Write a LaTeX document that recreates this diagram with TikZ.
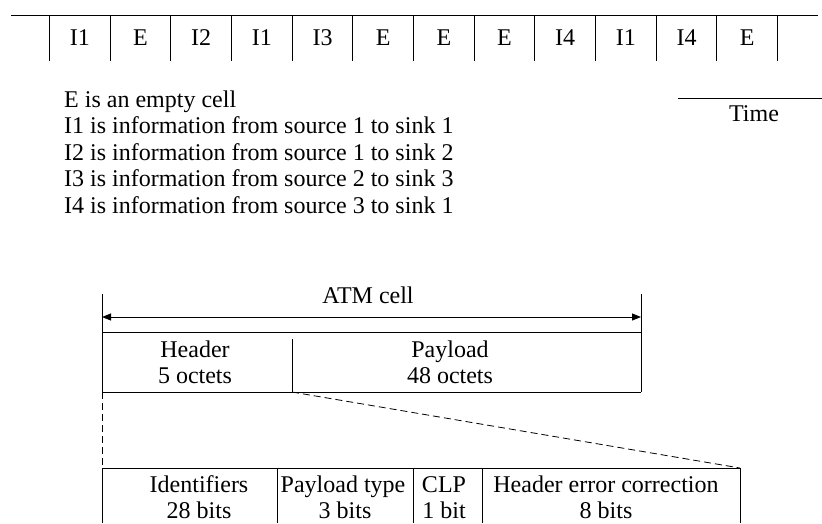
\documentclass[tikz,border=0pt]{standalone}
\usepackage{fontspec}
\setmainfont{Liberation Serif}
\usetikzlibrary{arrows.meta}
\begin{document}
\begin{tikzpicture}[x=1pt,y=-1pt,
  txt/.style={inner sep=0pt,anchor=base,font=\fontsize{24}{26}\selectfont},
  lgd/.style={inner sep=0pt,anchor=base west,font=\fontsize{24}{26}\selectfont},
  ln/.style={line width=0.9pt},
  dsh/.style={line width=0.8pt,dash pattern=on 7pt off 4pt},
  dimarrow/.style={line width=0.9pt,{Triangle[length=9pt,width=7pt]}-{Triangle[length=9pt,width=7pt]}}]
\useasboundingbox (0,0) rectangle (822,523);
% time strip
\draw[ln] (11,15) -- (818,15);
\foreach \i in {0,...,12} \draw[ln] ({49.5+60.67*\i},15) -- ({49.5+60.67*\i},61);
\foreach \t [count=\i from 0] in {I1,E,I2,I1,I3,E,E,E,I4,I1,I4,E}
  \node[txt] (c\i) at ({49.5+60.67*(\i+0.5)},45) {\t};
% legend
\node[lgd] (l1) at (64,107) {E is an empty cell};
\node[lgd] (l2) at (64,133.5) {I1 is information from source 1 to sink 1};
\node[lgd] (l3) at (64,160) {I2 is information from source 1 to sink 2};
\node[lgd] (l4) at (64,186.5) {I3 is information from source 2 to sink 3};
\node[lgd] (l5) at (64,213) {I4 is information from source 3 to sink 1};
% time
\draw[ln] (678,98) -- (822,98);
\node[txt] (time) at (754,121) {Time};
% ATM cell
\coordinate (aL) at (102,317);
\coordinate (aR) at (641,317);
\draw[ln] (102,294) -- (102,392);
\draw[ln] (641,294) -- (641,392);
\draw[dimarrow] (aL) -- (aR);
\node[txt] (atm) at (368,303) {ATM cell};
\draw[ln] (102,332) -- (641,332);
\draw[ln] (102,392) -- (641,392);
\draw[ln] (292,339) -- (292,392);
\node[txt] (hd1) at (195,357) {Header};
\node[txt] (hd2) at (195,383) {5 octets};
\node[txt] (pl1) at (450,357) {Payload};
\node[txt] (pl2) at (450,383) {48 octets};
% zoom lines
\draw[dsh] (102,392) -- (102,468);
\draw[dsh] (292,392) -- (740,468);
% header detail
\draw[ln] (102,468) -- (740,468);
\foreach \x in {102,277,413,482,740} \draw[ln] (\x,468) -- (\x,523);
\node[txt] (id1) at (199,492) {Identifiers};
\node[txt] (id2) at (199,518.5) {28 bits};
\node[txt] (pt1) at (343,492) {Payload type};
\node[txt] (pt2) at (345,518.5) {3 bits};
\node[txt] (cl1) at (444,492) {CLP};
\node[txt] (cl2) at (444,518.5) {1 bit};
\node[txt] (he1) at (606,492) {Header error correction};
\node[txt] (he2) at (606,518.5) {8 bits};
\end{tikzpicture}
\end{document}
